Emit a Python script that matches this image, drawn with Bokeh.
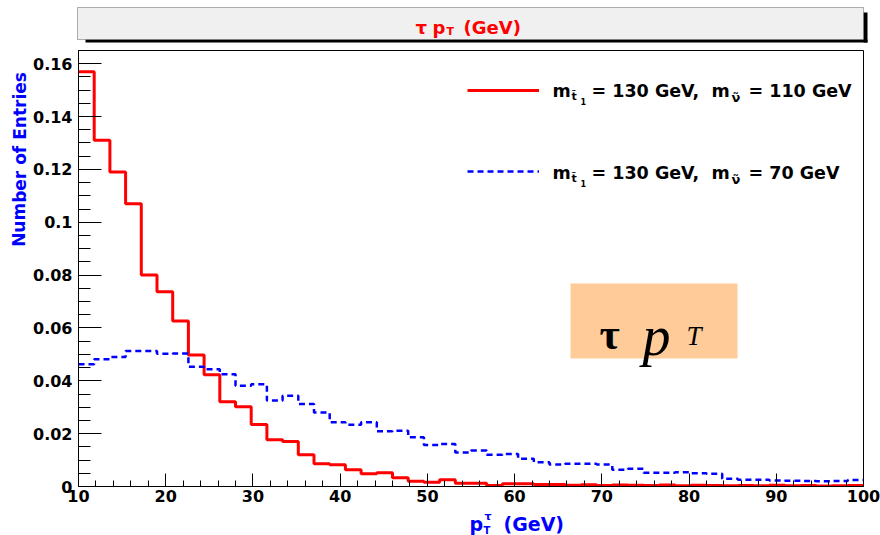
from bokeh.plotting import figure
from bokeh.layouts import column, row
from bokeh.models import (Range1d, SingleIntervalTicker, CustomJSTickFormatter, Label,
                          BoxAnnotation, Legend, LegendItem, ColumnDataSource)
from bokeh.embed import file_html
from bokeh.resources import INLINE

# ---- data (50 bins from 10 to 100 GeV, width 1.8) ----
x_min = 10.0
x_max = 100.0
n_bins = 50
red_vals = [0.157, 0.131, 0.119, 0.107, 0.080, 0.0737, 0.0626, 0.0498, 0.0423, 0.0321,
            0.0302, 0.0235, 0.0177, 0.0170, 0.0120, 0.0086, 0.0082, 0.0063, 0.0048, 0.0052,
            0.0033, 0.0020, 0.0016, 0.0026, 0.0012, 0.0012, 0.0004, 0.0010, 0.0010, 0.0008,
            0.0008, 0.0005, 0.0007, 0.0004, 0.0006, 0.0005, 0.0004, 0.0006, 0.0003, 0.0005,
            0.0004, 0.0003, 0.0004, 0.0003, 0.0005, 0.0003, 0.0004, 0.0002, 0.0003, 0.0004]
blue_vals = [0.0463, 0.0482, 0.0490, 0.0513, 0.0513, 0.0502, 0.0503, 0.0453, 0.0444, 0.0425,
             0.0381, 0.0387, 0.0325, 0.0343, 0.0312, 0.0280, 0.0243, 0.0234, 0.0243, 0.0209,
             0.0211, 0.0186, 0.0157, 0.0161, 0.0129, 0.0136, 0.0120, 0.0123, 0.0105, 0.0092,
             0.0083, 0.0086, 0.0086, 0.0083, 0.0063, 0.0067, 0.0052, 0.0052, 0.0054, 0.0050,
             0.0048, 0.0029, 0.0026, 0.0026, 0.0023, 0.0022, 0.0021, 0.0020, 0.0021, 0.0025]
y_max = 0.165

bw = (x_max - x_min) / n_bins
edges = [x_min + i * bw for i in range(n_bins + 1)]

src_red = ColumnDataSource(dict(x=edges, y=red_vals + [red_vals[-1]]))
src_blue = ColumnDataSource(dict(x=edges, y=blue_vals + [blue_vals[-1]]))

FONT = "DejaVu Sans"

# ---- page layout (page pixels, origin top-left) ----
TOP_H = 45
LEFT_W = 30
MAIN_W = 850
ML, MR, MT, MB = 47, 17, 5, 22
FRAME_H = 436
MAIN_H = MT + FRAME_H + MB
BOT_H = 535 - TOP_H - MAIN_H
FL = LEFT_W + ML          # frame left on page
FB = TOP_H + MT + FRAME_H  # frame bottom on page


def plain_fig(w, h):
    f = figure(width=w, height=h, x_range=Range1d(0, 1), y_range=Range1d(0, 1),
               x_axis_type=None, y_axis_type=None, output_backend="svg",
               toolbar_location=None, title=None, min_border=0)
    f.outline_line_color = None
    f.grid.visible = False
    f.background_fill_color = "white"
    f.border_fill_color = "white"
    return f


def make_helpers(fig, ox, oy_bottom):
    def sx(px):
        return px - ox

    def sy(py):
        return oy_bottom - py

    def box(x0, y0, x1, y1, fill, line=None, lw=1):
        b = BoxAnnotation(left=sx(x0), right=sx(x1), top=sy(y0), bottom=sy(y1),
                          left_units="screen", right_units="screen",
                          top_units="screen", bottom_units="screen",
                          fill_color=fill, fill_alpha=1.0,
                          line_color=line, line_width=lw, level="underlay")
        fig.add_layout(b)

    def lab(text, px, py, size, color="black", font=FONT, style="bold", angle=0.0,
            align="left", baseline="alphabetic"):
        l = Label(x=sx(px), y=sy(py), x_units="screen", y_units="screen", text=text,
                  text_font=font, text_font_style=style, text_font_size=size,
                  text_color=color, text_baseline=baseline, text_align=align,
                  angle=angle)
        fig.add_layout(l)
    return box, lab


# ---- top: title box ----
top = plain_fig(880, TOP_H)
tbox, tlab = make_helpers(top, 0, TOP_H)
tbox(863, 12, 867, 42, "black")
tbox(85, 39, 867, 42, "black")
tbox(77, 7, 863, 39, "#f0f0f0", line="black", lw=1)
tlab("\u03c4", 415, 27, "18px", "#ff0000")
tlab("p", 432, 27, "18px", "#ff0000")
tlab("T", 446, 31, "11px", "#ff0000")
tlab("(GeV)", 463, 27, "18px", "#ff0000")

# ---- left: y title ----
left = plain_fig(LEFT_W, MAIN_H)
lbox, llab = make_helpers(left, 0, TOP_H + MAIN_H)
llab("Number of Entries", 19, 181, "17px", "#0000ff", angle=1.5707963,
     align="center", baseline="middle")

# ---- bottom: x title ----
bot = plain_fig(880, BOT_H)
bbox_, blab = make_helpers(bot, 0, 535)
blab("p", 469, 523, "19px", "#0000ff")
blab("T", 483, 530, "10px", "#0000ff")
blab("\u03c4", 484, 516, "11px", "#0000ff")
blab("(GeV)", 503, 523, "19px", "#0000ff")

# ---- main plot ----
p = figure(width=MAIN_W, height=MAIN_H, x_range=Range1d(x_min, x_max),
           y_range=Range1d(0, y_max), output_backend="svg", toolbar_location=None,
           title=None, min_border_left=ML, min_border_right=MR, min_border_top=MT,
           min_border_bottom=MB)
p.grid.visible = False
p.outline_line_color = "black"
p.outline_line_width = 1
p.background_fill_color = "white"
p.border_fill_color = "white"

xa = p.xaxis[0]
xa.ticker = SingleIntervalTicker(interval=10, num_minor_ticks=5)
xa.major_tick_in = 13
xa.major_tick_out = 0
xa.minor_tick_in = 6
xa.minor_tick_out = 0
xa.major_label_standoff = 3
xa.major_label_text_font = FONT
xa.major_label_text_font_style = "bold"
xa.major_label_text_font_size = "16px"
xa.major_label_text_color = "black"
xa.axis_line_color = "black"

ya = p.yaxis[0]
ya.ticker = SingleIntervalTicker(interval=0.02, num_minor_ticks=4)
ya.formatter = CustomJSTickFormatter(code="return (Math.round(tick*1000)/1000).toString();")
ya.major_tick_in = 23
ya.major_tick_out = 0
ya.minor_tick_in = 12
ya.minor_tick_out = 0
ya.major_label_standoff = 6
ya.major_label_text_font = FONT
ya.major_label_text_font_style = "bold"
ya.major_label_text_font_size = "16px"
ya.major_label_text_color = "black"
ya.axis_line_color = "black"

r_red = p.step(x="x", y="y", source=src_red, mode="after", line_color="#ff0000", line_width=3)
r_blue = p.step(x="x", y="y", source=src_blue, mode="after", line_color="#0000ff",
                line_width=2.5, line_dash="6 4")

mbox, mlab = make_helpers(p, FL, FB)

leg = Legend(items=[LegendItem(label=" ", renderers=[r_red]),
                    LegendItem(label=" ", renderers=[r_blue])],
             glyph_width=72, glyph_height=20, label_width=0, label_height=20,
             label_text_font_size="1px", spacing=61, padding=0, margin=0,
             border_line_color=None, background_fill_alpha=0,
             location=(466 - FL, FB - 181))
p.add_layout(leg)

for base, m2 in ((90, "110"), (172, "70")):
    mlab("m", 551, base, "17.5px")
    mlab("t\u0303", 570, base + 6, "11px")
    mlab("1", 579, base + 11, "8px")
    mlab("= 130 GeV,", 590, base, "17.5px")
    mlab("m", 710, base, "17.5px")
    mlab("\u03bd\u0303", 730, base + 7, "13px")
    mlab("= %s GeV" % m2, 747, base, "17.5px")

# orange annotation box
mbox(569, 283, 736, 358, "#ffcc99")
mlab("\u03c4", 598, 334, "44px", "black", font="Liberation Serif", style="bold")
mlab("p", 641, 335, "56px", "black", font="Liberation Serif", style="italic")
mlab("T", 685, 335, "27px", "black", font="Liberation Serif", style="italic")

layout = column(top, row(left, p), bot)
open("out.html", "w").write(file_html(layout, INLINE))
